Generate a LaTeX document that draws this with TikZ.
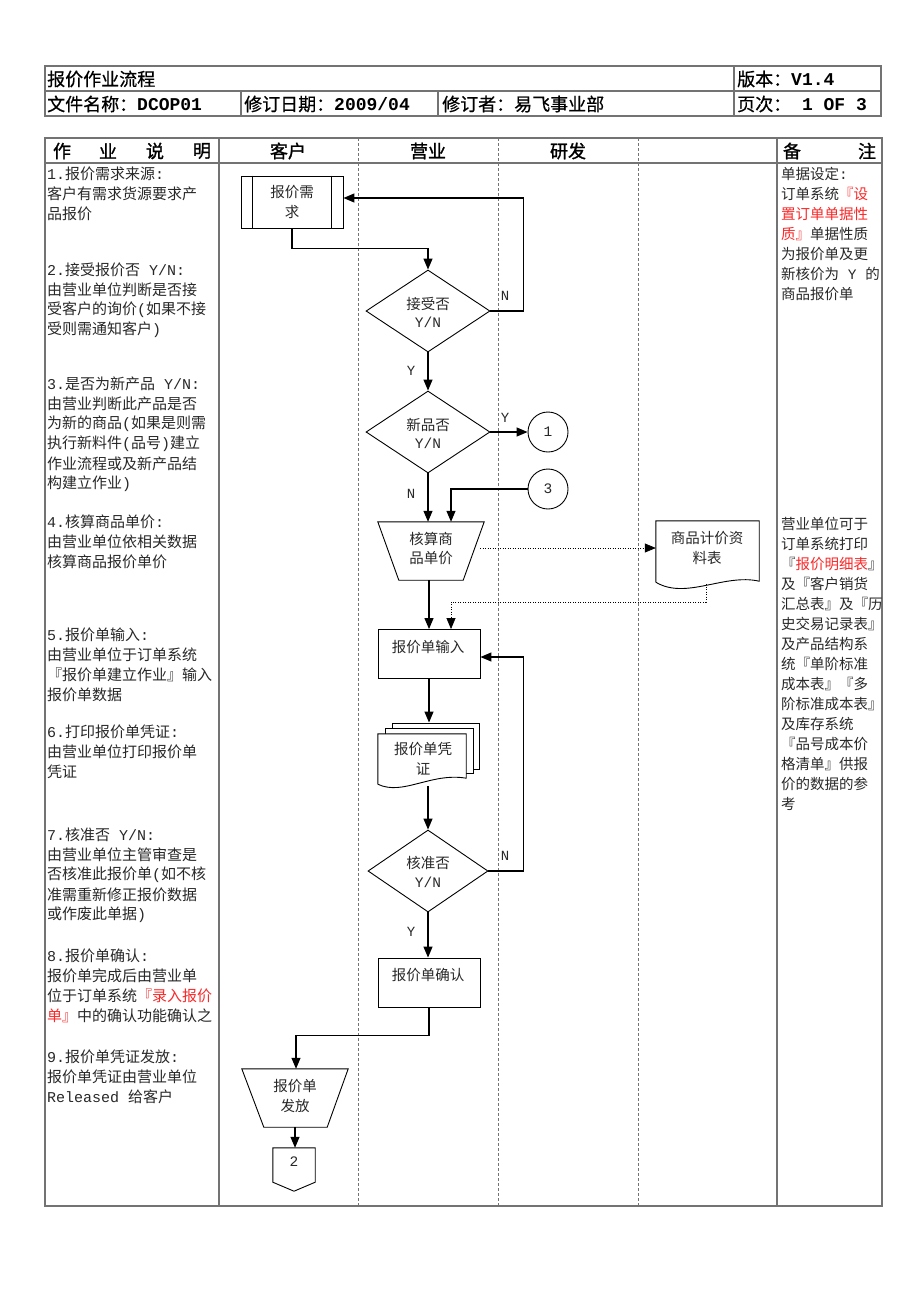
\documentclass[tikz,border=0pt]{standalone}
\usepackage{fontspec}
\setmainfont{Noto Sans CJK SC}
\newfontfamily\mono{Liberation Mono}
\newfontfamily\heib{Noto Sans CJK SC}[FakeBold=1.2]
\newfontfamily\heim{Noto Sans CJK SC}[FakeBold=0.5]
\usetikzlibrary{arrows.meta,shapes.geometric}
\definecolor{redtxt}{RGB}{250,40,40}
\definecolor{tline}{RGB}{115,115,115}
\definecolor{txt}{RGB}{40,40,40}
\newcommand{\mt}[1]{{\mono #1}}
\newcommand{\bdf}{\fontsize{15pt}{20pt}\selectfont}
\newcommand{\rtf}{\fontsize{14.5pt}{20pt}\selectfont}
\newcommand{\flf}{\fontsize{14.5pt}{19pt}\selectfont}
\newcommand{\hdf}{\fontsize{18pt}{20pt}\selectfont}
\newcommand{\rd}[1]{\textcolor{redtxt}{#1}}
\begin{document}
\begin{tikzpicture}[x=1pt,y=-1pt,
  lt/.style={anchor=west, inner sep=0, font=\bdf, text=txt},
  rt/.style={anchor=west, inner sep=0, font=\rtf, text=txt},
  ft/.style={inner sep=0, font=\flf, text=txt},
  lab/.style={inner sep=0, font=\mono\fontsize{14pt}{16pt}\selectfont, text=txt},
  hd/.style={anchor=west, inner sep=0, font=\heim\hdf, text=black},
  ch/.style={inner sep=0, font=\heib\hdf, text=black},
  shp/.style={draw=black, line width=0.9pt, fill=white},
  box/.style={draw=black, line width=0.9pt, fill=white, inner sep=0},
  bb/.style={inner sep=0},
  arr/.style={draw=black, line width=1.3pt, -{Triangle[length=11pt,width=9pt]}},
  darr/.style={draw=black, line width=0.7pt, dash pattern=on 1pt off 1.5pt, -{Triangle[length=11pt,width=9pt]}},
  tb/.style={draw=tline, line width=1.3pt},
  dc/.style={draw=tline, line width=0.9pt, dash pattern=on 3pt off 2pt}
]
\useasboundingbox (0,0) rectangle (920,1302);
\fill[white] (0,0) rectangle (920,1302);

% ---------- top header table ----------
\draw[tb] (45,66) rectangle (881,116);
\draw[tb] (45,91) -- (881,91);
\draw[tb] (734,66) -- (734,116);
\draw[tb] (241,91) -- (241,116);
\draw[tb] (438,91) -- (438,116);
\node[hd] (h1) at (47,79) {报价作业流程};
\node[hd] (h2) at (47,104) {文件名称：{\mono\bfseries DCOP01}};
\node[hd] (h3) at (244,104) {修订日期：{\mono\bfseries 2009/04}};
\node[hd] (h4) at (442,104) {修订者：易飞事业部};
\node[hd] (h5) at (737,79) {版本：{\mono\bfseries V1.4}};
\node[hd] (h6) at (737,104) {页次：{\mono\bfseries\ 1 OF 3}};

% ---------- main table ----------
\draw[tb] (45,138) rectangle (882,1206);
\draw[tb] (45,163) -- (882,163);
\draw[tb] (219,138) -- (219,1206);
\draw[tb] (777,138) -- (777,1206);
\draw[dc] (358,138) -- (358,1206);
\draw[dc] (498,138) -- (498,1206);
\draw[dc] (638,138) -- (638,1206);

\node[ch] (c1a) at (62,151) {作};
\node[ch] (c1b) at (108,151) {业};
\node[ch] (c1c) at (155,151) {说};
\node[ch] (c1d) at (202,151) {明};
\node[ch] (c2) at (288,151) {客户};
\node[ch] (c3) at (428,151) {营业};
\node[ch] (c4) at (568,151) {研发};
\node[ch] (c6a) at (792,151) {备};
\node[ch] (c6b) at (867,151) {注};

% ---------- left column ----------
\node[lt] (L1) at (47,174) {\mt{1.}报价需求来源\mt{:}};
\node[lt] (L2) at (47,194) {客户有需求货源要求产};
\node[lt] (L3) at (47,214) {品报价};
\node[lt] (L4) at (47,270) {\mt{2.}接受报价否\mt{ Y/N:}};
\node[lt] (L5) at (47,290) {由营业单位判断是否接};
\node[lt] (L6) at (47,310) {受客户的询价\mt{(}如果不接};
\node[lt] (L7) at (47,330) {受则需通知客户\mt{)}};
\node[lt] (L8) at (47,384) {\mt{3.}是否为新产品\mt{ Y/N:}};
\node[lt] (L9) at (47,404) {由营业判断此产品是否};
\node[lt] (L10) at (47,424) {为新的商品\mt{(}如果是则需};
\node[lt] (L11) at (47,444) {执行新料件\mt{(}品号\mt{)}建立};
\node[lt] (L12) at (47,464) {作业流程或及新产品结};
\node[lt] (L13) at (47,484) {构建立作业\mt{)}};
\node[lt] (L14) at (47,522) {\mt{4.}核算商品单价\mt{:}};
\node[lt] (L15) at (47,542) {由营业单位依相关数据};
\node[lt] (L16) at (47,562) {核算商品报价单价};
\node[lt] (L17) at (47,635) {\mt{5.}报价单输入\mt{:}};
\node[lt] (L18) at (47,655) {由营业单位于订单系统};
\node[lt] (L19) at (47,675) {『报价单建立作业』输入};
\node[lt] (L20) at (47,695) {报价单数据};
\node[lt] (L21) at (47,732) {\mt{6.}打印报价单凭证\mt{:}};
\node[lt] (L22) at (47,752) {由营业单位打印报价单};
\node[lt] (L23) at (47,772) {凭证};
\node[lt] (L24) at (47,835) {\mt{7.}核准否\mt{ Y/N:}};
\node[lt] (L25) at (47,855) {由营业单位主管审查是};
\node[lt] (L26) at (47,875) {否核准此报价单\mt{(}如不核};
\node[lt] (L27) at (47,895) {准需重新修正报价数据};
\node[lt] (L28) at (47,915) {或作废此单据\mt{)}};
\node[lt] (L29) at (47,956) {\mt{8.}报价单确认\mt{:}};
\node[lt] (L30) at (47,976) {报价单完成后由营业单};
\node[lt] (L31) at (47,996) {位于订单系统\rd{『录入报价}};
\node[lt] (L32) at (47,1016) {\rd{单』}中的确认功能确认之};
\node[lt] (L33) at (47,1057) {\mt{9.}报价单凭证发放\mt{:}};
\node[lt] (L34) at (47,1077) {报价单凭证由营业单位};
\node[lt] (L35) at (47,1097) {\mt{Released }给客户};

% ---------- right column ----------
\node[rt] (R1) at (781,174) {单据设定\mt{:}};
\node[rt] (R2) at (781,194) {订单系统\rd{『设}};
\node[rt] (R3) at (781,214) {\rd{置订单单据性}};
\node[rt] (R4) at (781,234) {\rd{质』}单据性质};
\node[rt] (R5) at (781,254) {为报价单及更};
\node[rt] (R6) at (781,274) {新核价为\mt{ Y }的};
\node[rt] (R7) at (781,294) {商品报价单};
\node[rt] (R8) at (781,524) {营业单位可于};
\node[rt] (R9) at (781,544) {订单系统打印};
\node[rt] (R10) at (781,564) {『\rd{报价明细表}』};
\node[rt] (R11) at (781,584) {及『客户销货};
\node[rt] (R12) at (781,604) {汇总表』及『历};
\node[rt] (R13) at (781,624) {史交易记录表』};
\node[rt] (R14) at (781,644) {及产品结构系};
\node[rt] (R15) at (781,664) {统『单阶标准};
\node[rt] (R16) at (781,684) {成本表』『多};
\node[rt] (R17) at (781,704) {阶标准成本表』};
\node[rt] (R18) at (781,724) {及库存系统};
\node[rt] (R19) at (781,744) {『品号成本价};
\node[rt] (R20) at (781,764) {格清单』供报};
\node[rt] (R21) at (781,784) {价的数据的参};
\node[rt] (R22) at (781,804) {考};

% ---------- flowchart shapes ----------
% predefined process
\node[box, minimum width=102pt, minimum height=52pt] (req) at (292,202) {};
\draw[shp] ([xshift=12pt]req.north west) -- ([xshift=12pt]req.south west);
\draw[shp] ([xshift=-12pt]req.north east) -- ([xshift=-12pt]req.south east);
\node[ft] (reqT1) at (292,192) {报价需};
\node[ft] (reqT2) at (292,212) {求};

% decision 1
\node[box, diamond, aspect=1.5, minimum width=124pt, minimum height=82pt] (d1) at (428,311) {};
\node[ft] (d1a) at (428,304) {接受否};
\node[ft, font=\mono\flf] (d1b) at (428,322) {Y/N};

% decision 2
\node[box, diamond, aspect=1.5, minimum width=124pt, minimum height=82pt] (d2) at (428,432) {};
\node[ft] (d2a) at (428,425) {新品否};
\node[ft, font=\mono\flf] (d2b) at (428,443) {Y/N};

% connectors circles
\node[box, circle, minimum size=40pt] (k1) at (548,432) {};
\node[ft, font=\mono\flf] (k1t) at (548,432) {1};
\node[box, circle, minimum size=40pt] (k3) at (548,489) {};
\node[ft, font=\mono\flf] (k3t) at (548,489) {3};

% manual operation: calc
\node[bb, minimum width=106pt, minimum height=58pt] (calc) at (431,551) {};
\draw[shp] (calc.north west) -- (calc.north east) -- ([xshift=-21pt]calc.south east) -- ([xshift=21pt]calc.south west) -- cycle;
\node[ft] (calcT1) at (431,539) {核算商};
\node[ft] (calcT2) at (431,558) {品单价};

% document
\node[bb, minimum width=103pt, minimum height=54pt] (doc) at (707.5,548) {};
\draw[shp] ([yshift=-7pt]doc.south west) -- (doc.north west) -- (doc.north east) -- ([yshift=-6pt]doc.south east)
  .. controls +(-35,-8) and +(30,18) .. ([yshift=-7pt]doc.south west);
\node[ft] (docT1) at (707,538) {商品计价资};
\node[ft] (docT2) at (707,558) {料表};

% input rectangle
\node[box, minimum width=102pt, minimum height=49pt] (inp) at (429,654) {};
\node[ft] (inpT) at (428,647) {报价单输入};

% multi document
\node[box, minimum width=87pt, minimum height=46pt] (md3) at (435.5,746) {};
\node[box, minimum width=88pt, minimum height=45pt] (md2) at (429,750.5) {};
\node[bb, minimum width=88pt, minimum height=44pt] (md) at (422,756) {};
\draw[shp] ([yshift=-6pt]md.south west) -- (md.north west) -- (md.north east) -- (md.south east)
  .. controls +(-35,-6) and +(25,12) .. ([yshift=-6pt]md.south west);
\node[ft] (mdT1) at (423,749) {报价单凭};
\node[ft] (mdT2) at (423,769) {证};

% decision 3
\node[box, diamond, aspect=1.5, minimum width=120pt, minimum height=82pt] (d3) at (428,871) {};
\node[ft] (d3a) at (428,863) {核准否};
\node[ft, font=\mono\flf] (d3b) at (428,882) {Y/N};

% confirm rectangle
\node[box, minimum width=102pt, minimum height=49pt] (conf) at (429,982.5) {};
\node[ft] (confT) at (428,975) {报价单确认};

% release (manual operation)
\node[bb, minimum width=106pt, minimum height=58pt] (rel) at (295,1098) {};
\draw[shp] (rel.north west) -- (rel.north east) -- ([xshift=-21pt]rel.south east) -- ([xshift=22pt]rel.south west) -- cycle;
\node[ft] (relT1) at (295,1086) {报价单};
\node[ft] (relT2) at (295,1106) {发放};

% off-page connector
\node[bb, minimum width=42pt, minimum height=34pt] (off) at (294,1165) {};
\draw[shp] (off.north west) -- (off.north east) -- (off.south east) -- ([yshift=-9pt]off.south) -- (off.south west) -- cycle;
\node[ft, font=\mono\flf] (offT) at (294,1162) {2};

% ---------- connectors ----------
\draw[arr] (req.south) -- ++(0,20) -| (d1.north);
\draw[arr] (d1.east) -- ++(33,0) |- ([yshift=4pt]req.east);
\draw[arr] (d1.south) -- (d2.north);
\draw[arr] (d2.east) -- (k1.west);
\draw[arr] (d2.south) -- (d2.south |- calc.north);
\draw[arr] (k3.west) -| ([xshift=20pt]calc.north);
\draw[darr] ([xshift=-4pt,yshift=3pt]calc.east) -- (doc.west);
\coordinate (dj) at (706,602);
\draw[darr] ([xshift=-1.5pt,yshift=-9pt]doc.south) |- (dj) -| ([xshift=22pt]inp.north);
\draw[arr] (calc.south -| inp.north) -- (inp.north);
\draw[arr] (inp.south) -- (inp.south |- md3.north);
\draw[arr] ([yshift=-8pt]d3.north |- md.south) -- (d3.north);
\draw[arr] (d3.east) -- ++(35,0) |- ([yshift=-3pt]inp.east);
\draw[arr] (d3.south) -- (d3.south |- conf.north);
\draw[arr] (conf.south) -- ++(0,28) -| ([xshift=1pt]rel.north);
\draw[arr] (rel.south) -- (rel.south |- off.north);

% ---------- branch labels ----------
\node[lab] (n1) at (505,296) {N};
\node[lab] (y1) at (411,371) {Y};
\node[lab] (y2) at (505,418) {Y};
\node[lab] (n2) at (411,494) {N};
\node[lab] (n3) at (505,856) {N};
\node[lab] (y3) at (411,932) {Y};
\end{tikzpicture}
\end{document}
